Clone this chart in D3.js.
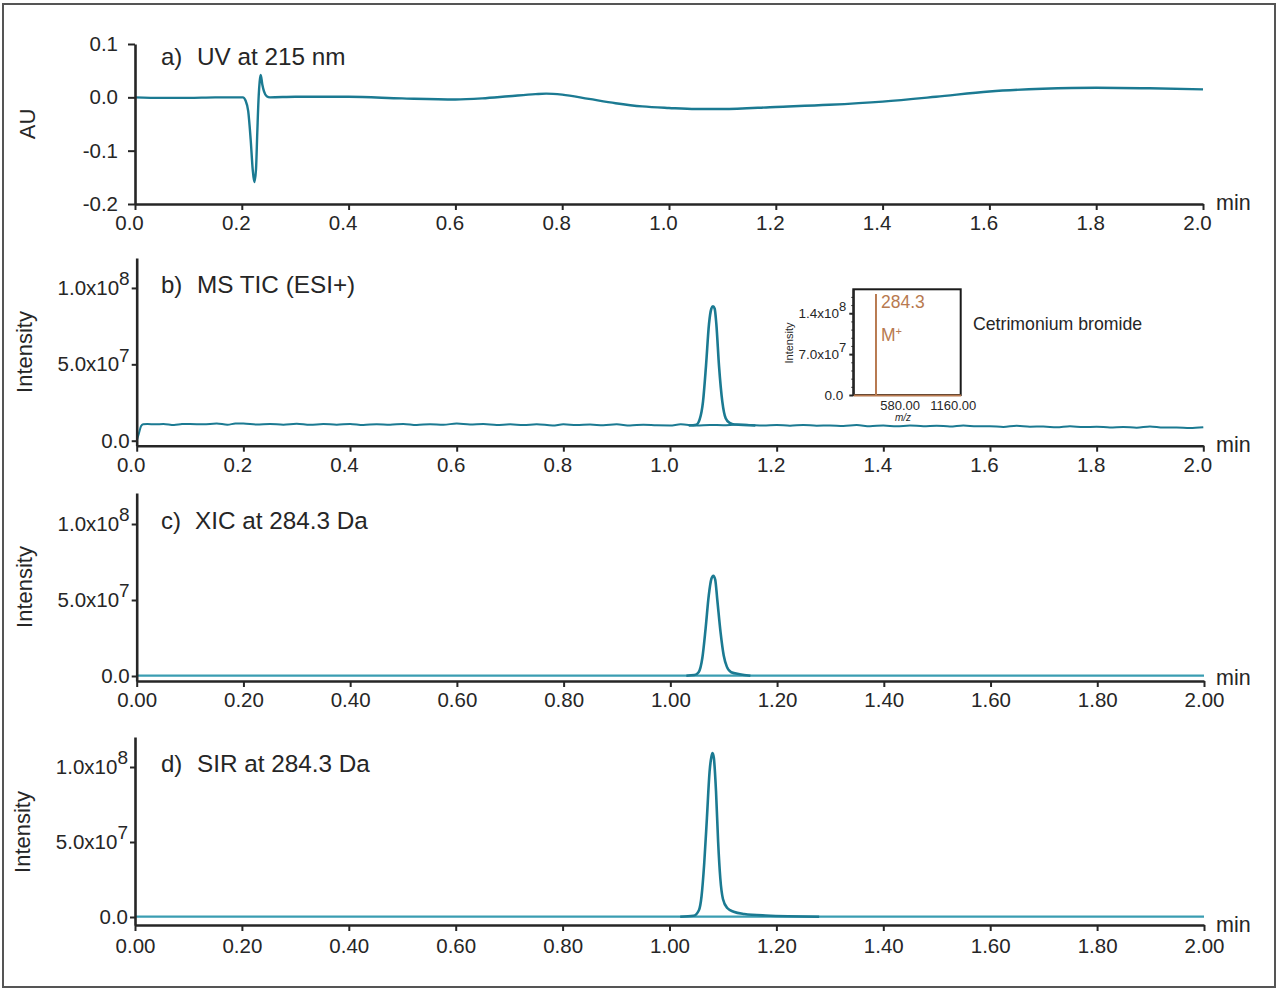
<!DOCTYPE html>
<html>
<head>
<meta charset="utf-8">
<script src="https://cdnjs.cloudflare.com/ajax/libs/d3/7.8.5/d3.min.js"></script>
<style>
  html, body { margin: 0; padding: 0; background: #fff; }
  svg { display: block; }
  text { font-family: "Liberation Sans", Arial, sans-serif; fill: #262626; }
</style>
</head>
<body>
<div id="chart"></div>
<script>
// UV trace, panel a (AU)
const uvTime = [0, 0.05, 0.1, 0.15, 0.19, 0.202, 0.207, 0.212, 0.2166, 0.2204, 0.2234, 0.2266, 0.229, 0.2316, 0.2335, 0.2354, 0.2384, 0.2416, 0.2466, 0.2528, 0.3, 0.4, 0.5, 0.6, 0.65, 0.7, 0.75, 0.77, 0.8, 0.85, 0.9, 0.95, 1.0, 1.05, 1.07, 1.1, 1.2, 1.3, 1.4, 1.5, 1.6, 1.7, 1.8, 1.9, 2.0];
const uvValue = [0, -0.001, -0.001, 0, 0, 0, -0.006, -0.026, -0.079, -0.135, -0.159, -0.135, -0.066, 0.002, 0.03, 0.042, 0.024, 0.011, 0.002, 0, 0.001, 0.001, -0.002, -0.004, -0.002, 0.002, 0.006, 0.007, 0.005, -0.003, -0.011, -0.017, -0.020, -0.022, -0.022, -0.022, -0.018, -0.014, -0.008, 0.001, 0.011, 0.016, 0.018, 0.017, 0.015];

// MS TIC, panel b (units of 1e7)
const ticTime = [0, 0.004, 0.008, 0.012, 0.02, 0.035, 0.05, 0.07, 0.085, 0.1, 0.125, 0.15, 0.17, 0.185, 0.2, 0.225, 0.25, 0.275, 0.3, 0.325, 0.35, 0.375, 0.4, 0.425, 0.45, 0.475, 0.5, 0.525, 0.55, 0.575, 0.6, 0.625, 0.65, 0.675, 0.7, 0.725, 0.75, 0.78, 0.8, 0.825, 0.85, 0.875, 0.9, 0.925, 0.95, 0.975, 1.0, 1.02, 1.05, 1.075, 1.1, 1.125, 1.15, 1.175, 1.2, 1.225, 1.25, 1.275, 1.3, 1.325, 1.35, 1.375, 1.4, 1.425, 1.45, 1.475, 1.5, 1.525, 1.55, 1.575, 1.6, 1.625, 1.65, 1.675, 1.7, 1.725, 1.75, 1.775, 1.8, 1.825, 1.85, 1.875, 1.9, 1.925, 1.95, 1.975, 2.0];
const ticValue = [0, 0.45, 0.95, 1.08, 1.1, 1.07, 1.1, 1.03, 1.09, 1.1, 1.07, 1.13, 1.05, 1.12, 1.13, 1.06, 1.1, 1.05, 1.11, 1.04, 1.09, 1.05, 1.1, 1.03, 1.08, 1.05, 1.1, 1.03, 1.08, 1.05, 1.12, 1.06, 1.09, 1.03, 1.07, 1.02, 1.08, 1.0, 1.07, 1.02, 1.06, 1.01, 1.07, 1.0, 1.04, 1.01, 1.0, 1.07, 0.99, 1.03, 1.01, 1.06, 1.03, 0.99, 1.03, 0.98, 1.03, 0.98, 1.0, 0.96, 1.02, 0.95, 1.0, 0.94, 1.0, 0.95, 0.98, 0.93, 1.0, 0.94, 0.95, 0.9, 0.98, 0.92, 0.93, 0.88, 0.95, 0.89, 0.92, 0.87, 0.9, 0.85, 0.93, 0.86, 0.87, 0.83, 0.88];
const ticPeakTime = [1.035, 1.0494, 1.0556, 1.0619, 1.0675, 1.0731, 1.0775, 1.0806, 1.0838, 1.0869, 1.0919, 1.0981, 1.1044, 1.1119, 1.1213, 1.16];
const ticPeakValue = [1.0, 1.05, 1.39, 2.56, 4.9, 7.63, 8.64, 8.8, 8.64, 7.63, 4.9, 2.56, 1.47, 1.16, 1.06, 1.0];

// XIC, panel c (units of 1e7)
const xicTime = [0, 2];
const xicValue = [0.02, 0.02];
const xicPeakTime = [1.03, 1.045, 1.053, 1.06, 1.066, 1.072, 1.077, 1.0806, 1.084, 1.088, 1.094, 1.1, 1.106, 1.114, 1.13, 1.15];
const xicPeakValue = [0.02, 0.06, 0.25, 1.2, 3.1, 5.3, 6.4, 6.6, 6.35, 5.0, 2.9, 1.35, 0.6, 0.25, 0.12, 0.02];

// SIR, panel d (units of 1e7)
const sirTime = [0, 2];
const sirValue = [0.02, 0.02];
const sirPeakTime = [1.02, 1.045, 1.055, 1.06, 1.065, 1.07, 1.075, 1.0785, 1.0806, 1.083, 1.087, 1.091, 1.095, 1.1, 1.108, 1.12, 1.14, 1.18, 1.28];
const sirPeakValue = [0.02, 0.08, 0.45, 1.4, 3.6, 6.6, 9.7, 10.7, 10.93, 10.6, 8.4, 5.0, 2.6, 1.2, 0.6, 0.35, 0.2, 0.1, 0.02];

// inset mass spectrum
const specMz = [284.3, 285.8];
const specIntensity = [1.73e8, 4.3e7];

const panelLabels = ["a)", "b)", "c)", "d)"];
const panelTitles = ["UV at 215 nm", "MS TIC (ESI+)", "XIC at 284.3 Da", "SIR at 284.3 Da"];
const timeTicks = [0, 0.2, 0.4, 0.6, 0.8, 1.0, 1.2, 1.4, 1.6, 1.8, 2.0];
const uvTicks = [-0.2, -0.1, 0, 0.1];
const intensityTicks = [0, 5, 10];

const teal = "#1b7a92", tealLight = "#3a9db2", copper = "#b87a50", ink = "#262626";

const svg = d3.select("#chart").append("svg").attr("width", 1280).attr("height", 992);

svg.append("rect").attr("width", 1280).attr("height", 992).attr("fill", "#fff");
svg.append("rect")
  .attr("x", 3).attr("y", 4).attr("width", 1272).attr("height", 983)
  .attr("fill", "none").attr("stroke", "#555").attr("stroke-width", 2);

const panels = [
  { i: 0, x0: 135, x1: 1203, top: 44, bottom: 204, lo: -0.2, hi: 0.1, yTicks: uvTicks, xDec: 1, xShift: -6, tickLen: 7, xPad: 5,
    yLabel: "AU", yLabelX: 35, yLabelY: 124, titleX: 197, titleY: 65, minY: 210,
    traces: [[uvTime, uvValue, teal, 2.4]] },
  { i: 1, x0: 136.7, x1: 1203.3, top: 258, bottom: 445.7, lo: -0.327, hi: 11.96, yTicks: intensityTicks, xDec: 1, xShift: -6, tickLen: 5, xPad: 6,
    yLabel: "Intensity", yLabelX: 32, yLabelY: 352, titleX: 197, titleY: 293, minY: 452,
    traces: [[ticTime, ticValue, teal, 2], [ticPeakTime, ticPeakValue, teal, 2.6]] },
  { i: 2, x0: 136.7, x1: 1204, top: 493, bottom: 681, lo: -0.329, hi: 12.04, yTicks: intensityTicks, xDec: 2, xShift: 0, tickLen: 5, xPad: 5,
    yLabel: "Intensity", yLabelX: 32, yLabelY: 587, titleX: 195, titleY: 529, minY: 685,
    traces: [[xicTime, xicValue, tealLight, 2.2], [xicPeakTime, xicPeakValue, teal, 2.6]] },
  { i: 3, x0: 135, x1: 1204, top: 737, bottom: 925, lo: -0.533, hi: 12, yTicks: intensityTicks, xDec: 2, xShift: 0, tickLen: 5, xPad: 7,
    yLabel: "Intensity", yLabelX: 30, yLabelY: 832, titleX: 197, titleY: 772, minY: 932,
    traces: [[sirTime, sirValue, tealLight, 2.2], [sirPeakTime, sirPeakValue, teal, 2.6]] }
];

// 1.0x10^8 style labels
function sciLabel(sel, mantissa, exp, supSize) {
  sel.text(null);
  sel.append("tspan").text(mantissa + "x10");
  sel.append("tspan").attr("dy", -supSize * 0.52).attr("font-size", supSize).text(exp);
}

function styleAxis(g, width) {
  g.select(".domain").attr("stroke", ink).attr("stroke-width", width);
  g.selectAll(".tick line").attr("stroke", ink).attr("stroke-width", 2);
}

panels.forEach(p => {
  const x = d3.scaleLinear().domain([0, 2]).range([p.x0, p.x1]);
  const y = d3.scaleLinear().domain([p.lo, p.hi]).range([p.bottom, p.top]);

  const line = d3.line().curve(d3.curveMonotoneX)
    .x(d => x(d[0])).y(d => y(d[1]));

  p.traces.forEach(t => {
    svg.append("path")
      .datum(t[0].map((v, k) => [v, t[1][k]]))
      .attr("fill", "none").attr("stroke", t[2]).attr("stroke-width", t[3])
      .attr("stroke-linejoin", "round")
      .attr("d", line);
  });

  const xAxis = svg.append("g")
    .attr("transform", `translate(0,${p.bottom})`)
    .call(d3.axisBottom(x).tickValues(timeTicks).tickSize(6).tickSizeOuter(0).tickPadding(p.xPad)
      .tickFormat(d3.format("." + p.xDec + "f")));
  styleAxis(xAxis, 2.6);
  xAxis.selectAll("text").attr("font-size", 20.5).attr("dx", p.xShift).style("fill", ink);

  const yAxis = svg.append("g")
    .attr("transform", `translate(${p.x0},0)`)
    .call(d3.axisLeft(y).tickValues(p.yTicks).tickSize(p.tickLen).tickSizeOuter(0).tickPadding(p.i == 0 ? 10 : 2));
  styleAxis(yAxis, 2.6);
  yAxis.selectAll("text").attr("font-size", 20.5).style("fill", ink)
    .each(function(d) {
      const sel = d3.select(this);
      if (p.i == 0) sel.text(d.toFixed(1));
      else if (d == 0) sel.text("0.0");
      else if (d == 5) sciLabel(sel, "5.0", "7", 19);
      else sciLabel(sel, "1.0", "8", 19);
    });

  svg.append("text")
    .attr("transform", `translate(${p.yLabelX},${p.yLabelY}) rotate(-90)`)
    .attr("text-anchor", "middle").attr("font-size", 22)
    .text(p.yLabel);

  svg.append("text").attr("x", 161).attr("y", p.titleY).attr("font-size", 24).text(panelLabels[p.i]);
  svg.append("text").attr("x", p.titleX).attr("y", p.titleY).attr("font-size", 24.3).text(panelTitles[p.i]);
  svg.append("text").attr("x", 1216).attr("y", p.minY).attr("font-size", 21.5).text("min");
});

// inset
const insetX = d3.scaleLinear().domain([50, 1160]).range([853.3, 960.7]);
const insetY = d3.scaleLinear().domain([0, 1.81e8]).range([395, 289.3]);
const insetG = svg.append("g");

insetG.append("rect")
  .attr("x", 853.3).attr("y", 289.3).attr("width", 107.4).attr("height", 105.7)
  .attr("fill", "none").attr("stroke", "#1a1a1a").attr("stroke-width", 2);

const insetYAxis = insetG.append("g").attr("transform", "translate(853.3,0)")
  .call(d3.axisLeft(insetY).tickValues([0, 7e7, 1.4e8]).tickSize(4).tickSizeOuter(0).tickPadding(6));
styleAxis(insetYAxis, 2);
insetYAxis.selectAll("text").attr("font-size", 13.5).style("fill", ink)
  .each(function(d) {
    const sel = d3.select(this);
    if (d == 0) sel.text("0.0");
    else if (d == 7e7) sciLabel(sel, "7.0", "7", 13);
    else sciLabel(sel, "1.4", "8", 13);
  });
insetYAxis.selectAll("text").filter(d => d > 0).attr("dx", 3);

// minor ticks on the inset y axis
const insetMinor = d3.range(0, 1.8e8, 1.4e7);
insetG.append("g").attr("transform", "translate(853.3,0)")
  .call(d3.axisLeft(insetY).tickValues(insetMinor).tickSize(2).tickSizeOuter(0).tickFormat(""))
  .call(g => g.select(".domain").remove())
  .call(g => g.selectAll("line").attr("stroke", ink));

insetG.append("g").attr("transform", "translate(0,395)")
  .call(d3.axisBottom(insetX).tickValues([580, 1160]).tickSize(0).tickPadding(6).tickFormat(d3.format(".2f")))
  .call(g => g.select(".domain").attr("stroke", copper).attr("stroke-width", 2.2))
  .call(g => g.selectAll("text").attr("font-size", 13).attr("dx", d => d == 580 ? -5 : -8).style("fill", ink));

insetG.selectAll("line.stem").data(specMz).join("line")
  .attr("class", "stem")
  .attr("x1", d => insetX(d)).attr("x2", d => insetX(d))
  .attr("y1", insetY(0)).attr("y2", (d, k) => insetY(specIntensity[k]))
  .attr("stroke", copper).attr("stroke-width", (d, k) => k == 0 ? 2 : 1);

insetG.append("text").attr("x", 881).attr("y", 308).attr("font-size", 17.5).style("fill", copper).text("284.3");
const mPlus = insetG.append("text").attr("x", 881).attr("y", 341).attr("font-size", 17.5).style("fill", copper);
mPlus.append("tspan").text("M");
mPlus.append("tspan").attr("dy", -6).attr("font-size", 11).text("+");

insetG.append("text")
  .attr("transform", "translate(793,343) rotate(-90)")
  .attr("text-anchor", "middle").attr("font-size", 11).text("Intensity");
insetG.append("text").attr("x", 903).attr("y", 421)
  .attr("text-anchor", "middle").attr("font-size", 10).attr("font-style", "italic").text("m/z");
insetG.append("text").attr("x", 973).attr("y", 330).attr("font-size", 17.7).text("Cetrimonium bromide");
</script>
</body>
</html>
